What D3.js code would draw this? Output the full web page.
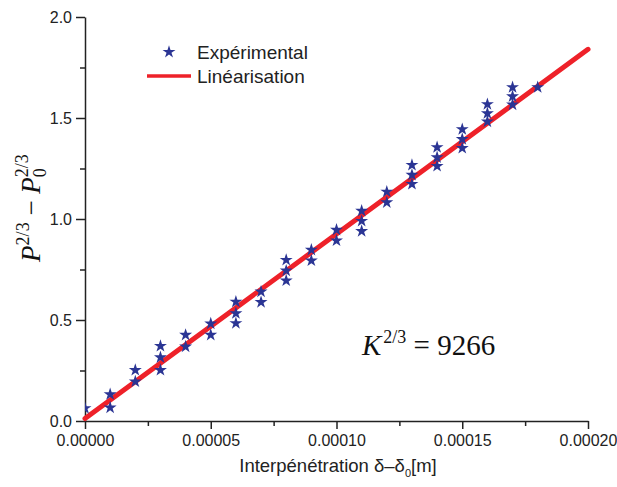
<!DOCTYPE html>
<html>
<head>
<meta charset="utf-8">
<style>
	body { margin: 0; background: #fff; }
	svg text { font-family: "Liberation Sans", Arial, Helvetica, sans-serif; }
	svg text.tm { font-family: "Liberation Serif", "Times New Roman", serif; }
</style>
<script src="https://cdnjs.cloudflare.com/ajax/libs/d3/7.8.5/d3.min.js"></script>
</head>
<body>
<svg id="chart" width="617" height="487"></svg>
<script>
let width = 617;
let height = 487;

// measured points (x in m)
let expX = [0,
	0.00001, 0.00001,
	0.00002, 0.00002,
	0.00003, 0.00003, 0.00003,
	0.00004, 0.00004,
	0.00005, 0.00005,
	0.00006, 0.00006, 0.00006,
	0.00007, 0.00007,
	0.00008, 0.00008, 0.00008,
	0.00009, 0.00009,
	0.00010, 0.00010,
	0.00011, 0.00011, 0.00011,
	0.00012, 0.00012,
	0.00013, 0.00013, 0.00013,
	0.00014, 0.00014, 0.00014,
	0.00015, 0.00015, 0.00015,
	0.00016, 0.00016, 0.00016,
	0.00017, 0.00017, 0.00017,
	0.00018];
let expY = [0.063,
	0.132, 0.066,
	0.252, 0.195,
	0.371, 0.315, 0.252,
	0.426, 0.368,
	0.482, 0.426,
	0.590, 0.533, 0.484,
	0.640, 0.588,
	0.797, 0.744, 0.695,
	0.847, 0.794,
	0.946, 0.893,
	1.040, 0.990, 0.940,
	1.135, 1.082,
	1.267, 1.218, 1.173,
	1.355, 1.305, 1.262,
	1.444, 1.395, 1.351,
	1.568, 1.523, 1.482,
	1.652, 1.607, 1.566,
	1.652];

// fitted line
let fitX = [0, 0.0002];
let fitY = [0.012, 1.84];

let xMajor = [0, 0.00005, 0.0001, 0.00015, 0.0002];
let xMinor = [0.000025, 0.000075, 0.000125, 0.000175];
let yMajor = [0, 0.5, 1.0, 1.5, 2.0];
let yMinor = [0.25, 0.75, 1.25, 1.75];

let legendLabels = ["Expérimental", "Linéarisation"];

let mLeft = 85, mRight = 588, mTop = 17, mBottom = 421;

let x = d3.scaleLinear().domain([0, 0.0002]).range([mLeft, mRight]);
let y = d3.scaleLinear().domain([0, 2]).range([mBottom, mTop]);

let svg = d3.select("#chart");

svg.append("defs").append("clipPath").attr("id", "plotclip")
	.append("rect").attr("x", mLeft).attr("y", 0).attr("width", mRight - mLeft + 10).attr("height", mBottom);

// axes
svg.append("g").attr("transform", `translate(0,${mBottom})`)
	.call(d3.axisBottom(x).tickValues(xMajor).tickSize(8).tickPadding(6).tickSizeOuter(0)
		.tickFormat(d3.format(".5f")));
svg.append("g").attr("transform", `translate(0,${mBottom})`)
	.call(d3.axisBottom(x).tickValues(xMinor).tickSize(5).tickSizeOuter(0).tickFormat(""))
	.select(".domain").remove();

svg.append("g").attr("transform", `translate(${mLeft},0)`)
	.call(d3.axisLeft(y).tickValues(yMajor).tickSize(9).tickPadding(4).tickSizeOuter(0)
		.tickFormat(d3.format(".1f")));
svg.append("g").attr("transform", `translate(${mLeft},0)`)
	.call(d3.axisLeft(y).tickValues(yMinor).tickSize(5).tickSizeOuter(0).tickFormat(""))
	.select(".domain").remove();

svg.selectAll(".domain").attr("stroke", "#222").attr("stroke-width", 1.5);
svg.selectAll(".tick line").attr("stroke", "#222").attr("stroke-width", 1.5);
svg.selectAll(".tick text").attr("font-size", 16).attr("fill", "#222");

// fit line
let line = d3.line().x(d => x(d[0])).y(d => y(d[1]));
svg.append("path")
	.datum(d3.zip(fitX, fitY))
	.attr("d", line)
	.attr("fill", "none")
	.attr("stroke", "#ee2129")
	.attr("stroke-width", 5)
	.attr("stroke-linecap", "round");

// stars
let star = d3.symbol().type(d3.symbolStar).size(52);
svg.append("g").attr("clip-path", "url(#plotclip)")
	.selectAll("path")
	.data(d3.zip(expX, expY))
	.join("path")
	.attr("d", star)
	.attr("transform", d => `translate(${x(d[0])},${y(d[1])})`)
	.attr("fill", "#2b3594");

// legend
svg.append("path").attr("d", star).attr("transform", "translate(169,52)").attr("fill", "#2b3594");
svg.append("line").attr("x1", 147).attr("x2", 191).attr("y1", 76).attr("y2", 76)
	.attr("stroke", "#ee2129").attr("stroke-width", 3.5);
svg.append("text").attr("x", 197).attr("y", 58.5).attr("font-size", 19).attr("fill", "#222").text(legendLabels[0]);
svg.append("text").attr("x", 197).attr("y", 82.5).attr("font-size", 19).attr("fill", "#222").text(legendLabels[1]);

// x title
let xt = svg.append("text").attr("x", 338).attr("y", 472).attr("text-anchor", "middle")
	.attr("font-size", 18.5).attr("fill", "#222");
xt.append("tspan").text("Interpénétration δ–δ");
xt.append("tspan").attr("font-size", 11).attr("dy", 5).text("0");
xt.append("tspan").attr("dy", -5).text("[m]");

// y title
let yt = svg.append("text").attr("class", "tm")
	.attr("transform", "translate(40,208) rotate(-90)")
	.attr("text-anchor", "middle").attr("font-size", 27).attr("fill", "#111");
yt.append("tspan").attr("font-style", "italic").text("P");
yt.append("tspan").attr("font-size", 18).attr("dy", -11).text("2/3");
yt.append("tspan").attr("dy", 11).text(" − ");
yt.append("tspan").attr("font-style", "italic").text("P");
yt.append("tspan").attr("font-size", 18).attr("dy", 6).text("0");
yt.append("tspan").attr("font-size", 18).attr("dx", -9).attr("dy", -18).text("2/3");

// constant annotation
let kt = svg.append("text").attr("class", "tm").attr("x", 362).attr("y", 355)
	.attr("font-size", 29).attr("fill", "#111");
kt.append("tspan").attr("font-style", "italic").text("K");
kt.append("tspan").attr("font-size", 18).attr("dy", -12).attr("dx", 2).text("2/3");
kt.append("tspan").attr("dy", 12).text(" = 9266");
</script>
</body>
</html>
